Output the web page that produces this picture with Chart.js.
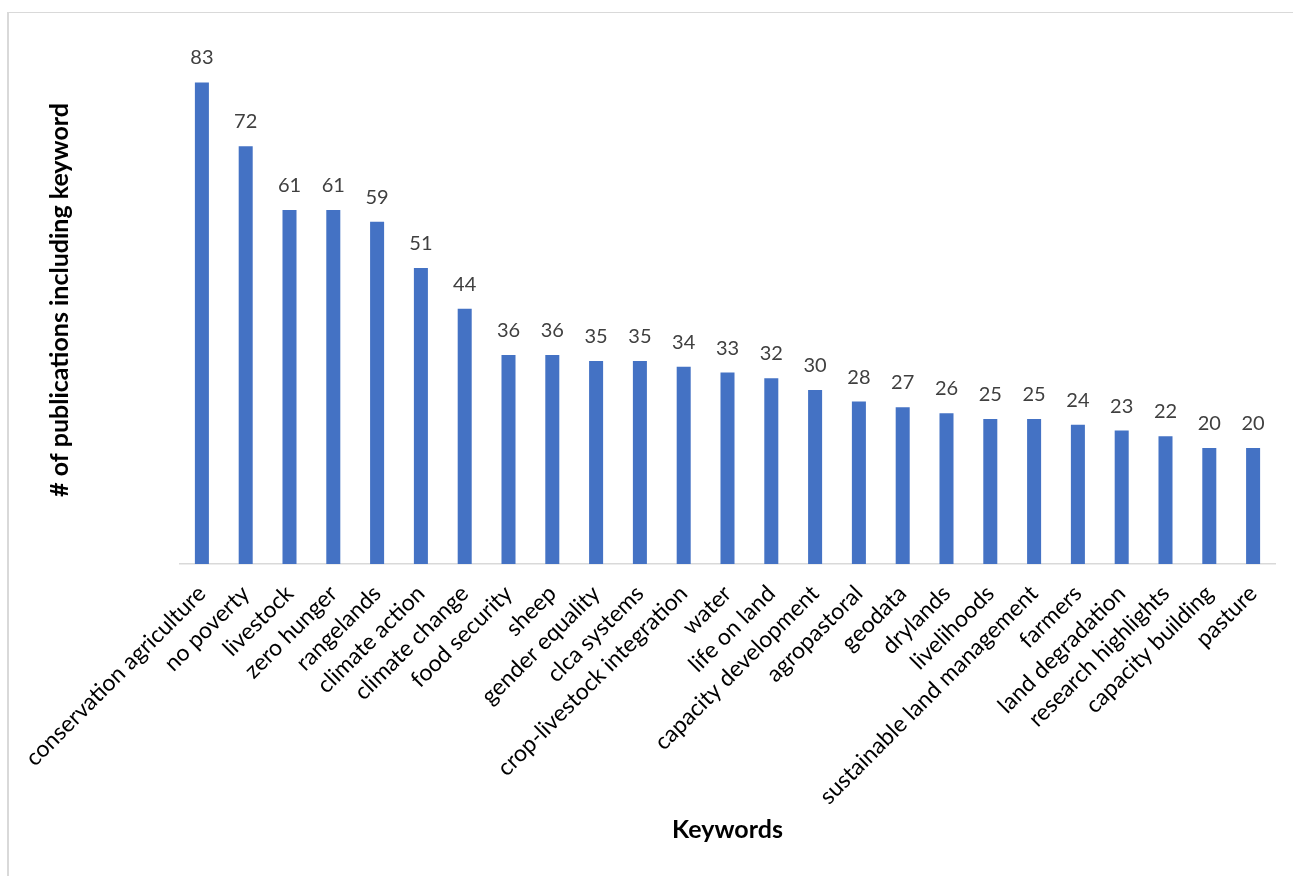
<!DOCTYPE html>
<html>
<head>
<meta charset="utf-8">
<script src="https://cdn.jsdelivr.net/npm/chart.js@4"></script>
<style>
  html, body { margin: 0; padding: 0; background: #fff; overflow: hidden; }
  #wrap { position: relative; width: 1293px; height: 876px; }
  #frame { position: absolute; left: 7px; top: 12px; width: 2000px; height: 2000px;
           border-left: 2px solid #d9d9d9; border-top: 1px solid #d9d9d9; box-sizing: border-box; }
  canvas { position: absolute; left: 0; top: 0; }
</style>
</head>
<body>
<div id="wrap">
  <div id="frame"></div>
  <canvas id="c" width="1293" height="876"></canvas>
</div>
<script>
const categories = [
  "conservation agriculture", "no poverty", "livestock", "zero hunger", "rangelands",
  "climate action", "climate change", "food security", "sheep", "gender equality",
  "clca systems", "crop-livestock integration", "water", "life on land",
  "capacity development", "agropastoral", "geodata", "drylands", "livelihoods",
  "sustainable land management", "farmers", "land degradation", "research highlights",
  "capacity building", "pasture"
];
const counts = [83, 72, 61, 61, 59, 51, 44, 36, 36, 35, 35, 34, 33, 32, 30, 28, 27, 26, 25, 25, 24, 23, 22, 20, 20];
const xTitle = "Keywords";
const yTitle = "# of publications including keyword";

const FONT = "Lato, 'Open Sans', sans-serif";

const valueLabels = {
  id: 'valueLabels',
  afterDatasetsDraw(chart) {
    const ctx = chart.ctx;
    const meta = chart.getDatasetMeta(0);
    ctx.save();
    ctx.font = "20px " + FONT;
    ctx.fillStyle = "#404040";
    ctx.textAlign = "center";
    ctx.textBaseline = "alphabetic";
    meta.data.forEach((bar, i) => {
      ctx.fillText(String(chart.data.datasets[0].data[i]), bar.x, bar.y - 18);
    });
    ctx.restore();
  }
};

new Chart(document.getElementById('c'), {
  type: 'bar',
  data: {
    labels: categories,
    datasets: [{
      data: counts,
      backgroundColor: '#4472C4',
      borderWidth: 0,
      categoryPercentage: 1.0,
      barPercentage: 0.32
    }]
  },
  options: {
    responsive: false,
    animation: false,
    maintainAspectRatio: false,
    layout: { padding: { top: 36, left: 41, right: 18, bottom: 27 } },
    plugins: { legend: { display: false }, tooltip: { enabled: false } },
    scales: {
      x: {
        offset: true,
        grid: { display: false, drawTicks: false },
        border: { display: true, color: '#d9d9d9', width: 1.5 },
        ticks: {
          color: '#000',
          font: { family: FONT, size: 23 },
          minRotation: 45, maxRotation: 45,
          autoSkip: false,
          padding: 16
        },
        title: {
          display: true, text: xTitle, color: '#000',
          font: { family: FONT, size: 25, weight: 'bold' },
          padding: { top: 4, bottom: 4 }
        },
        afterFit(scale) { scale.height = 285; }
      },
      y: {
        min: 0, max: 91,
        grid: { display: false, drawTicks: false },
        border: { display: false },
        ticks: { display: false },
        title: {
          display: true, text: yTitle, color: '#000',
          font: { family: FONT, size: 25, weight: 'bold' },
          padding: { top: 4, bottom: 4 }
        },
        afterFit(scale) { scale.width = 139; }
      }
    }
  },
  plugins: [valueLabels]
});
</script>
</body>
</html>
